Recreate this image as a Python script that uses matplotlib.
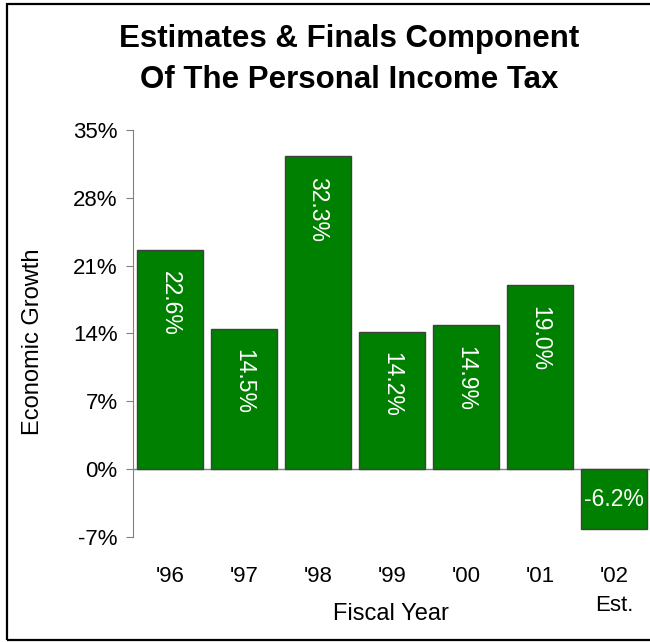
import matplotlib.pyplot as plt
from matplotlib.patches import Rectangle

plt.rcParams['font.family'] = ['Liberation Sans', 'DejaVu Sans']

# data
years = ["'96", "'97", "'98", "'99", "'00", "'01", "'02\nEst."]
growth = [22.6, 14.5, 32.3, 14.2, 14.9, 19.0, -6.2]
yticks = [-7, 0, 7, 14, 21, 28, 35]

fig = plt.figure(figsize=(6.5, 6.42), dpi=100)
ax = fig.add_axes([0.2046, 0.1636, 0.797, 0.634])

x = range(len(years))
bars = ax.bar(x, growth, width=0.89, color="#008000", edgecolor="#404040", linewidth=1, zorder=2)
ax.axhline(0, color="#808080", linewidth=1, zorder=1)

# value labels inside the bars
for b, v in zip(bars, growth):
    cx = b.get_x() + b.get_width() / 2
    if v > 0:
        ax.annotate(f"{v:.1f}%", (cx, v), xytext=(0, -15), textcoords="offset points",
                    rotation=270, ha="center", va="top", color="white", fontsize=16.5)
    else:
        ax.text(cx, v / 2, f"{v:.1f}%", ha="center", va="center", color="white", fontsize=16.5)

ax.set_xlim(-0.5, len(years) - 0.5)
ax.set_ylim(-7, 35)
ax.set_yticks(yticks)
ax.set_yticklabels([f"{t}%" for t in yticks])
ax.set_xticks(list(x))
ax.set_xticklabels(years, linespacing=1.5)

ax.spines["top"].set_visible(False)
ax.spines["right"].set_visible(False)
ax.spines["bottom"].set_visible(False)
ax.spines["left"].set_color("#808080")
ax.tick_params(axis="y", length=5, color="#808080", labelsize=16, pad=6)
ax.tick_params(axis="x", length=0, labelsize=16, pad=21)

ax.set_ylabel("Economic Growth", fontsize=17)
ax.yaxis.set_label_coords(-0.193, 0.48)
ax.yaxis.label.set_va("center")
ax.set_xlabel("Fiscal Year", fontsize=17)
ax.xaxis.set_label_coords(0.497, -0.19)
ax.xaxis.label.set_va("center")

fig.text(0.537, 0.907, "Estimates & Finals Component\nOf The Personal Income Tax",
         ha="center", va="center", fontsize=22.5, fontweight="bold", linespacing=1.5)

fig.patches.append(Rectangle((7 / 650, 2 / 642), 1.0, 636 / 642, transform=fig.transFigure,
                             fill=False, edgecolor="black", linewidth=1.6))

fig.savefig("out.png", dpi=100)
